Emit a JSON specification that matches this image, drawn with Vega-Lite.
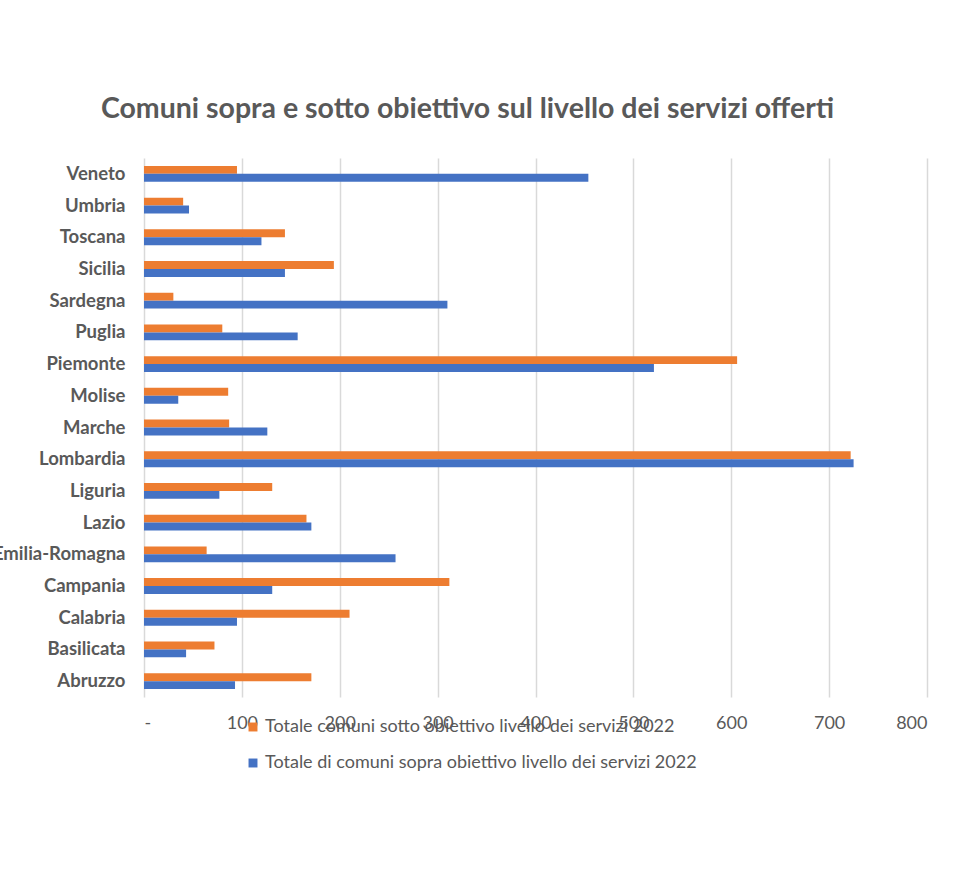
{
  "$schema": "https://vega.github.io/schema/vega-lite/v6.json",
  "autosize": {"type": "none"},
  "width": 783,
  "height": 539,
  "padding": {"left": 144, "top": 158, "right": 40, "bottom": 191},
  "background": "white",
  "title": {
    "text": "Comuni sopra e sotto obiettivo sul livello dei servizi offerti",
    "font": "Lato",
    "fontSize": 28.5,
    "fontWeight": "bold",
    "color": "#595959",
    "anchor": "middle",
    "dx": -68,
    "offset": 35
  },
  "data": {
    "values": [
      {"regione": "Veneto", "serie": "Totale comuni sotto obiettivo livello dei servizi 2022", "valore": 95},
      {"regione": "Veneto", "serie": "Totale di comuni sopra obiettivo livello dei servizi 2022", "valore": 454},
      {"regione": "Umbria", "serie": "Totale comuni sotto obiettivo livello dei servizi 2022", "valore": 40},
      {"regione": "Umbria", "serie": "Totale di comuni sopra obiettivo livello dei servizi 2022", "valore": 46},
      {"regione": "Toscana", "serie": "Totale comuni sotto obiettivo livello dei servizi 2022", "valore": 144},
      {"regione": "Toscana", "serie": "Totale di comuni sopra obiettivo livello dei servizi 2022", "valore": 120},
      {"regione": "Sicilia", "serie": "Totale comuni sotto obiettivo livello dei servizi 2022", "valore": 194},
      {"regione": "Sicilia", "serie": "Totale di comuni sopra obiettivo livello dei servizi 2022", "valore": 144},
      {"regione": "Sardegna", "serie": "Totale comuni sotto obiettivo livello dei servizi 2022", "valore": 30},
      {"regione": "Sardegna", "serie": "Totale di comuni sopra obiettivo livello dei servizi 2022", "valore": 310},
      {"regione": "Puglia", "serie": "Totale comuni sotto obiettivo livello dei servizi 2022", "valore": 80},
      {"regione": "Puglia", "serie": "Totale di comuni sopra obiettivo livello dei servizi 2022", "valore": 157},
      {"regione": "Piemonte", "serie": "Totale comuni sotto obiettivo livello dei servizi 2022", "valore": 606},
      {"regione": "Piemonte", "serie": "Totale di comuni sopra obiettivo livello dei servizi 2022", "valore": 521},
      {"regione": "Molise", "serie": "Totale comuni sotto obiettivo livello dei servizi 2022", "valore": 86},
      {"regione": "Molise", "serie": "Totale di comuni sopra obiettivo livello dei servizi 2022", "valore": 35},
      {"regione": "Marche", "serie": "Totale comuni sotto obiettivo livello dei servizi 2022", "valore": 87},
      {"regione": "Marche", "serie": "Totale di comuni sopra obiettivo livello dei servizi 2022", "valore": 126},
      {"regione": "Lombardia", "serie": "Totale comuni sotto obiettivo livello dei servizi 2022", "valore": 722},
      {"regione": "Lombardia", "serie": "Totale di comuni sopra obiettivo livello dei servizi 2022", "valore": 725},
      {"regione": "Liguria", "serie": "Totale comuni sotto obiettivo livello dei servizi 2022", "valore": 131},
      {"regione": "Liguria", "serie": "Totale di comuni sopra obiettivo livello dei servizi 2022", "valore": 77},
      {"regione": "Lazio", "serie": "Totale comuni sotto obiettivo livello dei servizi 2022", "valore": 166},
      {"regione": "Lazio", "serie": "Totale di comuni sopra obiettivo livello dei servizi 2022", "valore": 171},
      {"regione": "Emilia-Romagna", "serie": "Totale comuni sotto obiettivo livello dei servizi 2022", "valore": 64},
      {"regione": "Emilia-Romagna", "serie": "Totale di comuni sopra obiettivo livello dei servizi 2022", "valore": 257},
      {"regione": "Campania", "serie": "Totale comuni sotto obiettivo livello dei servizi 2022", "valore": 312},
      {"regione": "Campania", "serie": "Totale di comuni sopra obiettivo livello dei servizi 2022", "valore": 131},
      {"regione": "Calabria", "serie": "Totale comuni sotto obiettivo livello dei servizi 2022", "valore": 210},
      {"regione": "Calabria", "serie": "Totale di comuni sopra obiettivo livello dei servizi 2022", "valore": 95},
      {"regione": "Basilicata", "serie": "Totale comuni sotto obiettivo livello dei servizi 2022", "valore": 72},
      {"regione": "Basilicata", "serie": "Totale di comuni sopra obiettivo livello dei servizi 2022", "valore": 43},
      {"regione": "Abruzzo", "serie": "Totale comuni sotto obiettivo livello dei servizi 2022", "valore": 171},
      {"regione": "Abruzzo", "serie": "Totale di comuni sopra obiettivo livello dei servizi 2022", "valore": 93}
    ]
  },
  "mark": {"type": "bar", "cornerRadius": 0},
  "encoding": {
    "y": {
      "field": "regione",
      "type": "nominal",
      "sort": {"order": "descending"},
      "scale": {"paddingInner": 0.5, "paddingOuter": 0.25},
      "axis": {
        "title": null,
        "ticks": false,
        "domain": false,
        "labelFont": "Lato",
        "labelFontSize": 18.5,
        "labelFontWeight": "bold",
        "labelColor": "#595959",
        "labelPadding": 19,
        "labelLimit": 300
      }
    },
    "yOffset": {
      "field": "serie",
      "type": "nominal",
      "sort": ["Totale comuni sotto obiettivo livello dei servizi 2022", "Totale di comuni sopra obiettivo livello dei servizi 2022"]
    },
    "x": {
      "field": "valore",
      "type": "quantitative",
      "scale": {"domain": [0, 800], "nice": false},
      "axis": {
        "title": null,
        "values": [0, 100, 200, 300, 400, 500, 600, 700, 800],
        "labelExpr": "datum.value == 0 ? '-' : datum.label",
        "ticks": false,
        "domain": false,
        "grid": true,
        "gridColor": "#d9d9d9",
        "gridWidth": 1.5,
        "labelFont": "Lato",
        "labelFontSize": 18,
        "labelColor": "#595959",
        "labelPadding": 17
      }
    },
    "color": {
      "field": "serie",
      "type": "nominal",
      "sort": ["Totale comuni sotto obiettivo livello dei servizi 2022", "Totale di comuni sopra obiettivo livello dei servizi 2022"],
      "scale": {"range": ["#ED7D31", "#4472C4"]},
      "legend": {
        "title": null,
        "orient": "none",
        "legendX": 100,
        "legendY": 560,
        "direction": "vertical",
        "symbolType": "square",
        "symbolSize": 80,
        "symbolStrokeWidth": 0,
        "labelFont": "Lato",
        "labelFontSize": 18,
        "labelColor": "#595959",
        "labelLimit": 600,
        "rowPadding": 18,
        "labelOffset": 3
      }
    }
  },
  "config": {
    "view": {"stroke": null}
  }
}
